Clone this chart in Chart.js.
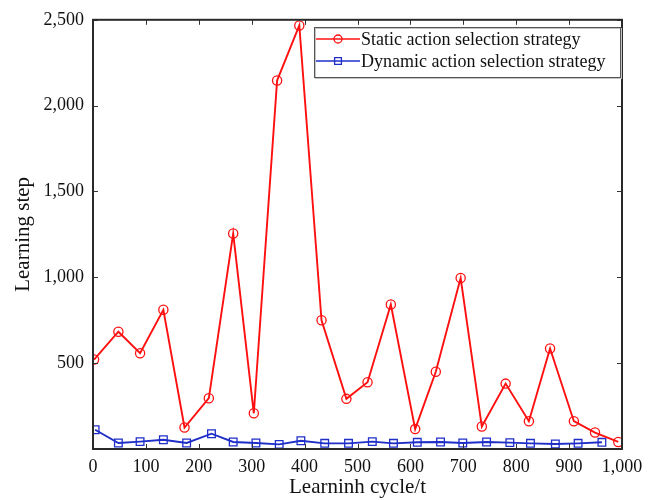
<!DOCTYPE html>
<html>
<head>
<meta charset="utf-8">
<script src="https://cdn.jsdelivr.net/npm/chart.js@4.4.1/dist/chart.umd.min.js"></script>
<style>
  html, body { margin: 0; padding: 0; background: #fff; }
  #wrap { width: 654px; height: 500px; }
</style>
</head>
<body>
<div id="wrap"><canvas id="c" width="654" height="500"></canvas></div>
<script>
// Learning cycle positions and learning steps for each strategy
const staticCycles = [2, 48, 89, 133, 173, 219, 265, 304, 348, 390, 432, 479, 519, 563, 609, 648, 695, 735, 780, 824, 864, 909, 949, 993];
const staticSteps  = [521, 683, 558, 811, 125, 296, 1255, 208, 2146, 2467, 750, 292, 389, 842, 116, 450, 996, 131, 381, 162, 585, 162, 96, 41];
const dynamicCycles = [4, 48, 89, 133, 177, 224, 265, 308, 352, 393, 438, 483, 528, 568, 613, 657, 699, 744, 788, 827, 874, 917, 962];
const dynamicSteps  = [112, 35, 43, 54, 35, 89, 41, 35, 27, 48, 33, 33, 43, 33, 39, 41, 35, 41, 37, 33, 29, 33, 39];
const seriesNames = ['Static action selection strategy', 'Dynamic action selection strategy'];
const xTitle = 'Learninh cycle/t';
const yTitle = 'Learning step';

const SERIF = "'Liberation Serif', 'Times New Roman', serif";
const RED = '#ff1010';
const BLUE = '#1f2ec8';

const toPoints = (xs, ys) => xs.map((x, i) => ({ x, y: ys[i] }));

// Frame around the plot with inward ticks on all four sides
const framePlugin = {
  id: 'frame',
  afterDatasetsDraw(chart) {
    const { ctx, chartArea: a, scales } = chart;
    ctx.save();
    ctx.strokeStyle = '#333';
    ctx.lineWidth = 1;
    const len = 5;
    ctx.beginPath();
    scales.x.ticks.forEach(t => {
      const px = Math.round(scales.x.getPixelForValue(t.value)) + 0.5;
      ctx.moveTo(px, a.bottom); ctx.lineTo(px, a.bottom - len);
      ctx.moveTo(px, a.top); ctx.lineTo(px, a.top + len);
    });
    scales.y.ticks.forEach(t => {
      const py = Math.round(scales.y.getPixelForValue(t.value)) + 0.5;
      ctx.moveTo(a.left, py); ctx.lineTo(a.left + len, py);
      ctx.moveTo(a.right, py); ctx.lineTo(a.right - len, py);
    });
    ctx.stroke();
    ctx.lineWidth = 2;
    ctx.strokeStyle = '#2a2a2a';
    ctx.strokeRect(a.left, a.top, a.right - a.left, a.bottom - a.top);
    ctx.restore();
  }
};

// Boxed legend in the upper right corner of the plot
const legendPlugin = {
  id: 'boxLegend',
  afterDraw(chart) {
    const { ctx, chartArea: a } = chart;
    const ds = chart.data.datasets;
    const boxR = a.right - 2, boxL = 314, boxT = 27, boxB = 77;
    ctx.save();
    ctx.fillStyle = '#fff';
    ctx.fillRect(boxL, boxT, boxR - boxL, boxB - boxT);
    ctx.strokeStyle = '#c4c4c4';
    ctx.lineWidth = 1;
    ctx.strokeRect(boxL + 1.5, boxT + 1.5, boxR - boxL, boxB - boxT);
    ctx.strokeStyle = '#555';
    ctx.strokeRect(boxL + 0.5, boxT + 0.5, boxR - boxL, boxB - boxT);
    const rows = [39, 61];
    ds.forEach((d, i) => {
      const y = rows[i];
      ctx.strokeStyle = d.borderColor;
      ctx.lineWidth = 1.4;
      ctx.beginPath();
      ctx.moveTo(boxL + 2, y); ctx.lineTo(boxL + 46, y);
      ctx.stroke();
      ctx.fillStyle = 'rgba(0,0,0,0)';
      ctx.strokeStyle = d.pointBorderColor;
      ctx.lineWidth = d.pointBorderWidth;
      Chart.helpers.drawPoint(ctx, {
        pointStyle: d.pointStyle, radius: d.pointRadius - 0.6, rotation: 0,
        borderWidth: d.pointBorderWidth
      }, boxL + 24, y);
      ctx.fillStyle = '#111';
      ctx.font = '18px ' + SERIF;
      ctx.textBaseline = 'middle';
      ctx.textAlign = 'left';
      ctx.fillText(d.label, boxL + 47, y + 1);
    });
    ctx.restore();
  }
};

new Chart(document.getElementById('c'), {
  type: 'scatter',
  data: {
    datasets: [
      {
        label: seriesNames[0],
        data: toPoints(staticCycles, staticSteps),
        showLine: true,
        borderColor: RED,
        backgroundColor: 'rgba(0,0,0,0)',
        borderWidth: 1.9,
        pointStyle: 'circle',
        pointRadius: 4.6,
        pointBorderWidth: 1.3,
        pointBorderColor: RED,
        pointBackgroundColor: 'rgba(0,0,0,0)'
      },
      {
        label: seriesNames[1],
        data: toPoints(dynamicCycles, dynamicSteps),
        showLine: true,
        borderColor: BLUE,
        backgroundColor: 'rgba(0,0,0,0)',
        borderWidth: 1.9,
        pointStyle: 'rect',
        pointRadius: 5.4,
        pointBorderWidth: 1.3,
        pointBorderColor: BLUE,
        pointBackgroundColor: 'rgba(0,0,0,0)'
      }
    ]
  },
  options: {
    responsive: false,
    animation: false,
    layout: { padding: { top: 16, right: 32, left: 0, bottom: 0 } },
    plugins: { legend: { display: false }, tooltip: { enabled: false } },
    scales: {
      x: {
        type: 'linear',
        min: 0, max: 1000,
        border: { display: false },
        grid: { display: false, drawTicks: false },
        ticks: {
          stepSize: 100, padding: 7, color: '#111',
          font: { family: SERIF, size: 18 },
          maxRotation: 0
        },
        title: {
          display: true, text: xTitle, color: '#111',
          font: { family: SERIF, size: 21 },
          padding: { top: 0, bottom: 0 }
        },
        afterFit(scale) { scale.height = 51; }
      },
      y: {
        type: 'linear',
        min: 0, max: 2500,
        border: { display: false },
        grid: { display: false, drawTicks: false },
        ticks: {
          stepSize: 500, padding: 9, color: '#111',
          font: { family: SERIF, size: 18 },
          callback(v) { return v === 0 ? '' : v.toLocaleString('en-US'); }
        },
        title: {
          display: true, text: yTitle, color: '#111',
          font: { family: SERIF, size: 21 },
          padding: { top: 11, bottom: 0 }
        },
        afterFit(scale) { scale.width = 93; }
      }
    }
  },
  plugins: [framePlugin, legendPlugin]
});
</script>
</body>
</html>
